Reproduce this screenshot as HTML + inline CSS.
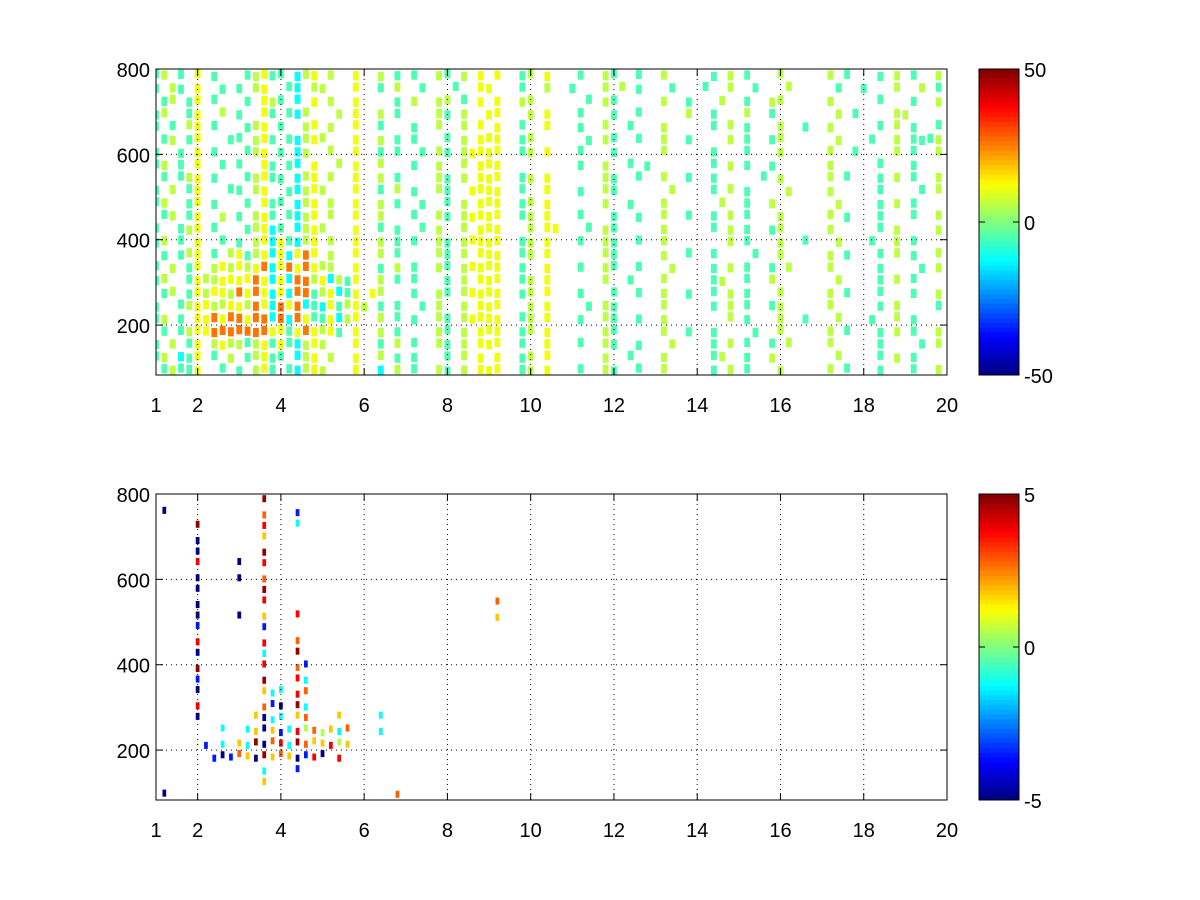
<!DOCTYPE html>
<html><head><meta charset="utf-8"><style>
html,body{margin:0;padding:0;background:#fff;}
svg{display:block;font-family:"Liberation Sans",Arial,sans-serif;}
</style></head><body>
<svg id="fig" width="1200" height="900" viewBox="0 0 1200 900"></svg>
<script>
// ---- data ----
const xTicks=[1,2,4,6,8,10,12,14,16,18,20];
const yTicks=[200,400,600,800];
const topColorTicks=[50,0,-50];
const botColorTicks=[5,0,-5];
// character -> value lookup, top panel (range -50..50)
const topCodes={c:-5,g:6,y:11,o:26,b:-12,r:38};
// bottom panel (range -5..5)
const botCodes={B:-5,b:-3.5,c:-1.2,g:0.5,y:1.8,o:2.8,r:3.8,R:4.8};
// rows from y=800 downward, 30 units each; columns 0.2 units from x=1
const topRows=[
"cg.c.|y.c..|.cgyc|c.bgy|.g..y|..g.c|.c..g|c.g.y|.y..c|g.y..|.c..g|c..c.|.g...|..c.g|.c...|g....|.g.c.|..c.g|.c..g",
"c.gc.|y..c.|c.gy.|.cb.g|g...y|..c.g|..c..|.c..y|y...c|..g..|c...g|.g.c.|..c..|.c..g|..c..|.g...|..c..|c...g|..g.c",
".cg.c|y.c..|.c.yg|c.b.y|.g..y|....c|.g..g|g.c.y|.y..g|g....|..c.g|c....|.g..c|...g.|.c..g|g....|.g...|..c..|.c..g",
"cg..c|y..g.|c..yc|.cbg.|..g.y|..g.c|....g|c.g..|yy...|g.y..|.c...|c..c.|....g|..c..|.g..c|.....|..g.c|....g|g....",
"c.c.g|y.c..|.cgy.|c..gy|.g..y|..c..|.c..g|..g.y|.y..c|..y..|.c..g|..c..|.g...|..c.g|.c...|g..c.|.g...|..c.g|.c..c",
".cg.c|y...c|c.gyc|.cbgy|g...y|..g.c|.c...|c.g.y|yy..c|g....|..c.g|c..c.|.g..c|....g|.c..c|g....|..g..|.c..g|.cccg",
"c..c.|y.c..|.cgy.|c.bg.|.g..y|..c.c|..c.g|c.gyy|yy..c|g.y..|.c...|c....|.g...|..c..|.c...|g....|.g..c|....g|.c..g",
"cg.c.|y..c.|c..yc|.cb.y|..g.y|..g..|.c..g|..g.y|yy...|.....|.c..g|..c.c|.....|..c.g|.c..c|.....|.g...|..c..|.c...",
".c.cg|y.c..|.cgyc|c.bgy|.g..y|..g.c|....g|c.g.y|yy..c|g.y..|....g|c..c.|.g..c|..c..|...c.|g....|.g.c.|..c.g|.c..g",
"c.g.c|y...c|c.gy.|.cbgy|g...y|..c.g|.c..g|c..yy|yy..c|..y..|.c..g|c....|..g..|..c.g|.c...|.g...|.g...|..c..|..c.g",
"cg..c|y.c..|.c.yc|c.bgy|.g..y|..g.c|..c..|c.g.y|yy..c|g.y..|....g|..c..|.g...|...g.|.c..g|.....|..g..|..c.g|.c...",
".cg.c|y..g.|c.gyc|.cbgy|.g..y|..g..|.c..g|c.gyy|yy..c|g.y..|.c...|c..c.|.g..c|..c.g|.c...|g....|.g.c.|..c..|.c..g",
"c..cg|y.c..|.cgyb|c.bgy|g...y|..c.c|..c.g|..g.y|yy...|g.yy.|..c.g|c....|.g...|..c.g|.c..c|g....|.g...|..c.g|....g",
"cg.c.|y..c.|c.gyb|ycbgy|.g..y|..g.c|.c..g|c.gyy|yy..c|g.y..|.c..g|c..c.|.g...|....g|.c...|g..c.|..g..|.c..g|.c...",
".c.cg|y.c.g|ycgyb|ybyoy|.g..y|..g.c|....g|c.g.y|yy..c|g.y..|....g|c....|.g..c|..c..|..c..|g....|.g.c.|..c.g|.c..g",
"c.g.c|y.gyg|ygyob|yoyoy|gg..y|..c.g|.c..g|c.gyy|yy..c|..y..|.c..g|c..c.|..g..|..c.g|.c..c|.g...|.g...|..c..|..c.g",
"cg..c|yggyy|yyoyb|yboog|ybgcy|..g.c|.c...|c.g.y|yy..c|g.y..|....g|..c..|.g...|..cg.|.c..g|.....|..g..|..c.g|.c...",
".cg.c|ygyyg|oyoyb|ybooc|gybcy|.yg..|.c..g|c.gyy|yy..c|g.y..|.c...|c..c.|.g..c|..c.g|.c...|g....|.g.c.|..c..|.c..g",
"c..cg|yyggy|ygoyb|oyobc|bycgy|g.c.c|..c.g|..g.y|yy...|g.y..|..c.g|c....|.g...|..c.g|.c..c|g....|.g...|..c.g|....c",
"cg.c.|yyoyo|oyoob|oboyc|cybgy|..g.c|.c..g|c.gyy|yy..c|g.y..|.c..g|c..c.|.g...|....g|.c...|g..c.|..g..|.c..g|.c...",
".c.cg|yyooo|ooooy|ycyoy|gyc.y|..g.c|....g|c.g.y|yy..c|g.y..|....g|c....|.g..c|..c..|..c..|g....|.g.c.|..c.g|.c..g",
"c.g.c|y.gyg|gcgyc|ycbgy|g...y|..c.g|.c..g|c.g.y|yy..c|..y..|.c..g|c..c.|..g..|..c.g|.c..c|.g...|.g...|..c..|..c.g",
"cg.bc|y.c.g|.cgyc|c.bgy|.g..y|..g.c|.c...|c.g.y|.y..c|g.y..|....g|..c..|.g...|..cg.|.c..g|.....|..g..|..c.g|.c...",
".cgcc|y..c.|c.gyc|.cbgy|g...y|..b.g|.c..g|c.g.y|yy..c|g.y..|.c..g|c..c.|.g...|..c.g|.c...|g....|.g.c.|..c..|.c..g"
];
const botRows=[
".....|.....|...R.",
".B...|.....|...o.|..b..",
".....|R....|...r.|..c..",
".....|B....|...y.",
".....|B....|...R.",
".....|r....|B..r.",
".....|B....|B..o.",
".....|B....|...R.",
".....|B....|...r.|.....|.....|.....|.....|.....|.o...",
".....|B....|B..y.|..r..|.....|.....|.....|.....|.y...",
".....|b....|...b.",
".....|r....|...r.|..o..",
".....|B....|...c.|..R..",
".....|R....|...r.|..ob.",
".....|b....|...R.|..rc.",
".....|B....|...yc|c.ro.",
".....|r....|...ob|B.Rc.",
".....|B....|..yBc|c.yo.|..y..|..c..",
".....|...c.|.cyBy|bcrgo|gyco.|..c..",
".....|.b.c.|ycRBo|rcRoy|yrgy.",
".....|..bBb|oyBRy|oyBbr|B.r..",
".....|.....|...c.|..b..",
".....|.....|...y.",
".B...|.....|.....|.....|.....|....o"
];
// ---- drawing ----
const NS="http://www.w3.org/2000/svg";
const svg=document.getElementById('fig');
function mk(tag,attrs,parent){const e=document.createElementNS(NS,tag);for(const k in attrs)e.setAttribute(k,attrs[k]);(parent||svg).appendChild(e);return e;}
function jet(t){t=Math.max(0,Math.min(1,t));const c=v=>Math.round(255*Math.max(0,Math.min(1,v)));
return `rgb(${c(1.5-Math.abs(4*t-3))},${c(1.5-Math.abs(4*t-2))},${c(1.5-Math.abs(4*t-1))})`;}
const X0=156,X1=947,XMIN=1,XMAX=20,YMIN=83,YMAX=800;
function panel(name,top,rows,codes,vmin,vmax,cticks,wf,hf){
  const bot=top+306;
  const sx=v=>X0+(v-XMIN)/(XMAX-XMIN)*(X1-X0);
  const sy=v=>bot-(v-YMIN)/(YMAX-YMIN)*(bot-top);
  const g=mk('g',{});
  
  
  const clip=mk('clipPath',{id:name+'clip'},g);mk('rect',{x:X0,y:top,width:X1-X0,height:bot-top},clip);
  const cells=mk('g',{'clip-path':`url(#${name}clip)`},g);
  
  
  rows.forEach((row,r)=>{
    const s=row.replace(/\|/g,'');
    const yHi=YMAX-30*r, yLo=yHi-30;
    for(let i=0;i<s.length;i++){const ch=s[i];if(!(ch in codes))continue;
      const xa=XMIN+0.2*i-0.1, xb=xa+0.2;
      const w=sx(xb)-sx(xa), h=sy(yLo)-sy(yHi);
      const off=((i*7+r*3)%5)/5*(h*(1-hf));
      const rc=mk('rect',{x:sx(xa)+w*(1-wf)/2,y:sy(yHi)+off,width:w*wf,height:h*hf,fill:jet((codes[ch]-vmin)/(vmax-vmin))},cells);
      
      
    }
  });
  xTicks.forEach(t=>{if(t>XMIN&&t<XMAX){const l=mk('line',{x1:sx(t),x2:sx(t),y1:top,y2:bot,stroke:'#000','stroke-width':1,'stroke-dasharray':'1,4'},g);}});
  yTicks.forEach(t=>{if(t<YMAX){const l=mk('line',{x1:X0,x2:X1,y1:sy(t),y2:sy(t),stroke:'#000','stroke-width':1,'stroke-dasharray':'1,4'},g);}});
  const box=mk('rect',{x:X0,y:top,width:X1-X0,height:bot-top,fill:'none',stroke:'#000','stroke-width':1},g);
  
  
  xTicks.forEach(t=>{mk('line',{x1:sx(t),x2:sx(t),y1:bot,y2:bot-7,stroke:'#000'},g);mk('line',{x1:sx(t),x2:sx(t),y1:top,y2:top+7,stroke:'#000'},g);
    const tx=mk('text',{x:sx(t),y:bot+37,'font-size':20,'text-anchor':'middle'},g);tx.textContent=t;
    });
  yTicks.forEach(t=>{mk('line',{x1:X0,x2:X0+7,y1:sy(t),y2:sy(t),stroke:'#000'},g);mk('line',{x1:X1,x2:X1-7,y1:sy(t),y2:sy(t),stroke:'#000'},g);
    const tx=mk('text',{x:150,y:sy(t)+8,'font-size':20,'text-anchor':'end'},g);tx.textContent=t;
    });
  const cb=mk('g',{},g);
  
  
  const n=64,hh=(bot-top)/n;
  for(let k=0;k<n;k++){mk('rect',{x:979,y:bot-(k+1)*hh,width:40,height:hh+0.5,fill:jet((k+0.5)/n)},cb);}
  mk('rect',{x:979,y:top,width:40,height:bot-top,fill:'none',stroke:'#000'},cb);
  cticks.forEach(t=>{const yy=bot-(t-vmin)/(vmax-vmin)*(bot-top);
    mk('line',{x1:1019,x2:1013,y1:yy,y2:yy,stroke:'#000'},cb);mk('line',{x1:979,x2:985,y1:yy,y2:yy,stroke:'#000'},cb);
    const tx=mk('text',{x:1024,y:yy+8,'font-size':20},cb);tx.textContent=t;
    });
}
panel('top',69,topRows,topCodes,-50,50,topColorTicks,0.7,0.72);
panel('bottom',494,botRows,botCodes,-5,5,botColorTicks,0.45,0.55);
</script>
</body></html>
